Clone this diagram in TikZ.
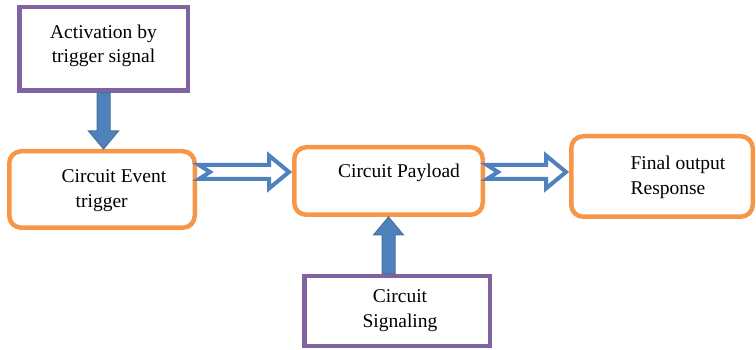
\documentclass[tikz,border=0pt]{standalone}
\usepackage{fontspec}
\setmainfont{Liberation Serif}
\usepackage{tikz}
\usetikzlibrary{positioning,calc}

\definecolor{boxpurple}{HTML}{8064A2}
\definecolor{boxorange}{HTML}{F79646}
\definecolor{arrowblue}{HTML}{4F81BD}
\definecolor{arrowedge}{HTML}{41719C}

% filled block arrow, #3 = 1 points down, -1 points up
\newcommand{\solidarrow}[3]{%
	\draw[solidarr] ($(#1)+(-6.5,0)$) -- ($(#2)+(-6.5,#3*18)$) -- ($(#2)+(-15,#3*18)$) -- (#2)
		-- ($(#2)+(15,#3*18)$) -- ($(#2)+(6.5,#3*18)$) -- ($(#1)+(6.5,0)$) -- cycle;}

% hollow notched arrow pointing right
\newcommand{\hollowarrow}[2]{%
	\draw[hollowarr] ($(#1)+(2,7)$) -- ($(#2)+(-23,7)$) -- ($(#2)+(-23,16.5)$) -- ($(#2)+(-3,0)$)
		-- ($(#2)+(-23,-16.5)$) -- ($(#2)+(-23,-7)$) -- ($(#1)+(2,-7)$) -- ($(#1)+(13,0)$) -- cycle;}

\begin{document}
\begin{tikzpicture}[
		x=1pt, y=1pt,
		purplebox/.style={draw=boxpurple, line width=4.5pt},
		orangebox/.style={draw=boxorange, line width=4.5pt, rounded corners=12pt},
		txt/.style={align=left, inner sep=0pt, font=\fontsize{19.5}{24.5}\selectfont},
		solidarr/.style={fill=arrowblue, draw=arrowedge, line width=1pt},
		hollowarr/.style={draw=arrowblue, fill=white, line width=4pt, miter limit=4}
		]
		
		\useasboundingbox (0,0) rectangle (756,-350);
		
		\node (act) [purplebox, minimum width=168.5pt, minimum height=83.5pt] at (103.5,-49) {};
		
		\node (event) [orangebox, minimum width=185.5pt, minimum height=76.5pt,
			below=56pt of act, xshift=-1.5pt] {};
		
		\node (payload) [orangebox, minimum width=188.5pt, minimum height=67.5pt,
			right=95pt of event, yshift=8.5pt] {};
		
		\node (final) [orangebox, minimum width=181.5pt, minimum height=80.5pt,
			right=84pt of payload, yshift=4.5pt] {};
		
		\node (signal) [purplebox, minimum width=185.5pt, minimum height=69.5pt,
			below=57pt of payload, xshift=8.5pt] {};
		
		\node (acttxt) [txt, align=center] at ([yshift=3pt]act.center) {Activation by\\trigger signal};
		\node (eventtxt) [txt] at ([xshift=12pt,yshift=-1pt]event.center) {Circuit Event\\\hspace*{14pt}trigger};
		\node (payloadtxt) [txt] at ([xshift=10.5pt,yshift=8.5pt]payload.center) {Circuit Payload};
		\node (finaltxt) [txt] at ([xshift=16pt,yshift=-1pt]final.center) {Final output\\Response};
		\node (signaltxt) [txt, align=center] at ([xshift=3pt,yshift=0.5pt]signal.center) {Circuit\\Signaling};
		
		\coordinate (flow) at (0,-172);
		
		\solidarrow{act.south}{act.south |- event.north}{1}
		\solidarrow{payload.south |- signal.north}{payload.south}{-1}
		
		\hollowarrow{event.east |- flow}{payload.west |- flow}
		\hollowarrow{payload.east |- flow}{final.west |- flow}
		
\end{tikzpicture}
\end{document}
